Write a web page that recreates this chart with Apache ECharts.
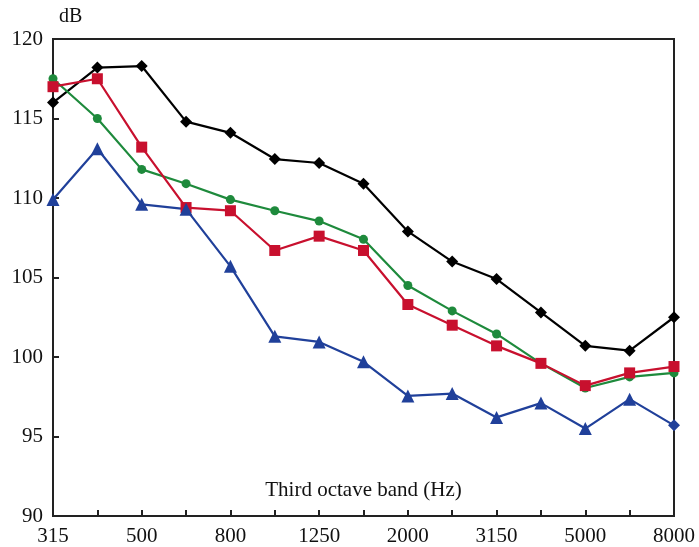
<!DOCTYPE html>
<html><head><meta charset="utf-8">
<script src="https://cdn.jsdelivr.net/npm/echarts@6/dist/echarts.min.js"></script>
<style>html,body{margin:0;padding:0;background:#fff}#c{width:699px;height:547px}</style>
</head><body><div id="c"></div>
<script>
const categories = ['315','400','500','630','800','1000','1250','1600','2000','2500','3150','4000','5000','6300','8000'];
const blackSeries = [116.0,118.2,118.3,114.8,114.1,112.45,112.2,110.9,107.9,106.0,104.9,102.8,100.7,100.4,102.5];
const greenSeries = [117.5,115.0,111.8,110.9,109.9,109.2,108.55,107.4,104.5,102.9,101.45,99.6,98.05,98.75,99.0];
const redSeries   = [117.0,117.5,113.2,109.4,109.2,106.7,107.6,106.7,103.3,102.0,100.7,99.6,98.2,99.0,99.4];
const blueSeries  = [109.9,113.1,109.6,109.3,105.7,101.3,100.95,99.7,97.55,97.7,96.2,97.1,95.5,97.35,95.7];
const yTicks = {min:90, max:120, interval:5};

const FONT = '"Liberation Serif", "Times New Roman", serif';
const chart = echarts.init(document.getElementById('c'));
function line(data, color, symbol, size){
  return {type:'line', data:data, symbol:symbol, symbolSize:size, showSymbol:true,
    lineStyle:{color:color, width:2.2}, itemStyle:{color:color}, animation:false, z:3};
}
const blueData = blueSeries.map((v,i)=> i===blueSeries.length-1 ? {value:v, symbol:'diamond', symbolSize:12} : v);
chart.setOption({
  animation:false,
  grid:{left:53, right:25, top:39, bottom:31, show:true, borderColor:'#222', borderWidth:2, backgroundColor:'transparent'},
  xAxis:{type:'category', data:categories, boundaryGap:false,
    axisLine:{lineStyle:{color:'#222', width:2}},
    axisTick:{inside:true, length:6, interval:0, lineStyle:{color:'#222', width:2}},
    axisLabel:{interval:1, color:'#111', fontFamily:FONT, fontSize:21, margin:10},
    splitLine:{show:false},
    name:'Third octave band (Hz)', nameLocation:'middle', nameGap:-26,
    nameTextStyle:{color:'#111', fontFamily:FONT, fontSize:21, verticalAlign:'middle'}
  },
  yAxis:{type:'value', min:yTicks.min, max:yTicks.max, interval:yTicks.interval,
    axisLine:{show:true, lineStyle:{color:'#222', width:2}},
    axisTick:{show:true, inside:true, length:6, lineStyle:{color:'#222', width:2}},
    axisLabel:{color:'#111', fontFamily:FONT, fontSize:21, margin:10},
    splitLine:{show:false},
    name:'dB', nameLocation:'end', nameGap:12,
    nameTextStyle:{color:'#111', fontFamily:FONT, fontSize:20, align:'left', padding:[0,0,0,6]}
  },
  series:[
    line(blackSeries,'#000000','diamond',12),
    line(greenSeries,'#1e8a3c','circle',9),
    line(redSeries,'#c8102e','rect',11),
    line(blueData,'#20409a','triangle',13)
  ]
});
</script></body></html>
